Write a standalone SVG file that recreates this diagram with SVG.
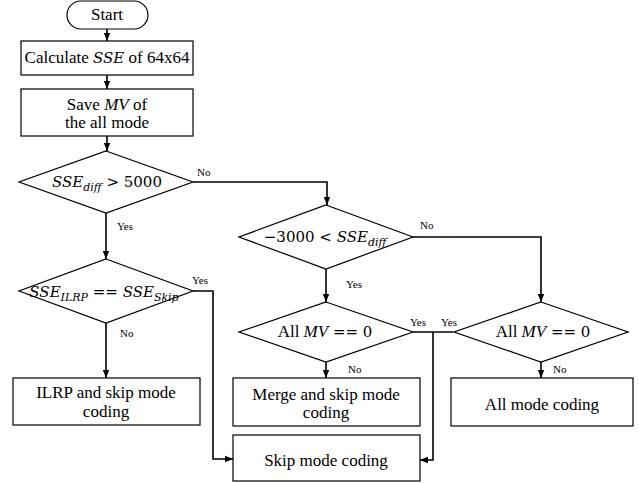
<svg xmlns="http://www.w3.org/2000/svg" width="644" height="483" viewBox="0 0 644 483">
  <style>
    .shape { fill: #ffffff; stroke: #000000; stroke-width: 1.2; }
    .txt { font-family: "Liberation Serif", "Times New Roman", serif; font-size: 17px; fill: #000; text-anchor: middle; }
    .math { font-family: "DejaVu Serif", "Liberation Serif", serif; font-size: 15px; fill: #000; text-anchor: middle; }
    .mth { font-family: "DejaVu Serif", "Liberation Serif", serif; font-size: 15px; }
    .it { font-style: italic; }
    .sub { font-size: 11px; font-style: italic; }
    .lbl { font-family: "Liberation Serif", "Times New Roman", serif; font-size: 11px; fill: #000; }
    .edge { fill: none; stroke: #000; stroke-width: 1.6; }
  </style>
  <defs>
    <marker id="arrow" markerUnits="userSpaceOnUse" markerWidth="8" markerHeight="8" viewBox="0 0 8 8" refX="8" refY="4" orient="auto">
      <path d="M0,0.8 L8,4 L0,7.2 Z" fill="#000"/>
    </marker>
  </defs>
  <rect width="644" height="483" fill="#ffffff"/>

  <!-- connectors -->
  <g id="connectors">
    <path class="edge" d="M107,29 V41" marker-end="url(#arrow)"/>
    <path class="edge" d="M107,75 V89" marker-end="url(#arrow)"/>
    <path class="edge" d="M107,136 V151" marker-end="url(#arrow)"/>
    <path class="edge" d="M193,182 H327 V205" marker-end="url(#arrow)"/>
    <path class="edge" d="M106,213 V259" marker-end="url(#arrow)"/>
    <path class="edge" d="M413,237 H541 V302" marker-end="url(#arrow)"/>
    <path class="edge" d="M326,269 V302" marker-end="url(#arrow)"/>
    <path class="edge" d="M193,291 H213 V459 H233" marker-end="url(#arrow)"/>
    <path class="edge" d="M106,323 V378" marker-end="url(#arrow)"/>
    <path class="edge" d="M326,362 V378" marker-end="url(#arrow)"/>
    <path class="edge" d="M541,362 V378" marker-end="url(#arrow)"/>
    <path class="edge" d="M413,332 H453"/>
    <path class="edge" d="M433,332 V460 H420" stroke-width="2.4" marker-end="url(#arrow)"/>

    <text class="lbl" x="197" y="176">No</text>
    <text class="lbl" x="117" y="230">Yes</text>
    <text class="lbl" x="420" y="229">No</text>
    <text class="lbl" x="346" y="288">Yes</text>
    <text class="lbl" x="192" y="284">Yes</text>
    <text class="lbl" x="120" y="337">No</text>
    <text class="lbl" x="410" y="326">Yes</text>
    <text class="lbl" x="441" y="326">Yes</text>
    <text class="lbl" x="348" y="373">No</text>
    <text class="lbl" x="553" y="373">No</text>
  </g>

  <g id="start">
    <rect class="shape" x="67" y="1" width="81" height="28" rx="14" ry="14"/>
    <text class="txt" x="107" y="20">Start</text>
  </g>

  <g id="calc-sse">
    <rect class="shape" x="21" y="41" width="172" height="34"/>
    <text class="txt" x="107" y="63">Calculate <tspan class="mth it">SSE</tspan> of 64x64</text>
  </g>

  <g id="save-mv">
    <rect class="shape" x="21" y="89" width="172" height="47"/>
    <text class="txt" x="107" y="110">Save <tspan class="it">MV</tspan> of</text>
    <text class="txt" x="107" y="128">the all mode</text>
  </g>

  <g id="cond-diff-5000">
    <polygon class="shape" points="106,151 193,182 106,213 19,182"/>
    <text class="math" x="107" y="187" font-size="16"><tspan class="it">SSE</tspan><tspan class="sub" dy="4">diff</tspan><tspan dy="-4"> &gt; 5000</tspan></text>
  </g>

  <g id="cond-diff-3000">
    <polygon class="shape" points="326,205 413,237 326,269 239,237"/>
    <text class="math" x="325" y="242">−3000 &lt; <tspan class="it">SSE</tspan><tspan class="sub" dy="4">diff</tspan></text>
  </g>

  <g id="cond-ilrp-skip">
    <polygon class="shape" points="106,259 193,291 106,323 19,291"/>
    <text class="math" x="104" y="297"><tspan class="it">SSE</tspan><tspan class="sub" dy="4">ILRP</tspan><tspan dy="-4"> == </tspan><tspan class="it">SSE</tspan><tspan class="sub" dy="4">Skip</tspan></text>
  </g>

  <g id="cond-mv-left">
    <polygon class="shape" points="326,302 413,332 326,362 239,332"/>
    <text class="txt" x="325" y="337">All <tspan class="it">MV</tspan><tspan class="mth"> == 0</tspan></text>
  </g>

  <g id="cond-mv-right">
    <polygon class="shape" points="541,302 628,332 541,362 454,332"/>
    <text class="txt" x="543" y="337">All <tspan class="it">MV</tspan><tspan class="mth"> == 0</tspan></text>
  </g>

  <g id="ilrp-skip-coding">
    <rect class="shape" x="13" y="378" width="187" height="47"/>
    <text class="txt" x="106" y="398">ILRP and skip mode</text>
    <text class="txt" x="106" y="417">coding</text>
  </g>

  <g id="merge-skip-coding">
    <rect class="shape" x="233" y="378" width="187" height="48"/>
    <text class="txt" x="326" y="400">Merge and skip mode</text>
    <text class="txt" x="326" y="418">coding</text>
  </g>

  <g id="all-mode-coding">
    <rect class="shape" x="451" y="378" width="182" height="48"/>
    <text class="txt" x="542" y="410">All mode coding</text>
  </g>

  <g id="skip-coding">
    <rect class="shape" x="233" y="435" width="187" height="46"/>
    <text class="txt" x="326" y="466">Skip mode coding</text>
  </g>
</svg>
